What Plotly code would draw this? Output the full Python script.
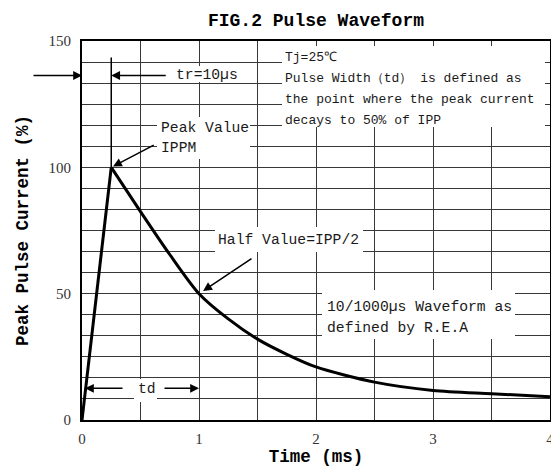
import plotly.graph_objects as go

# ---------------- data ----------------
rise_time_ms = [0, 0.25]
rise_pct = [0, 100]
decay_time_ms = [0.25, 0.5, 0.75, 1.0, 1.25, 1.5, 1.75, 2.0, 2.5, 3.0, 3.5, 4.0]
decay_pct = [100, 82.5, 65.5, 50, 40, 32, 26, 21, 15, 11.7, 10.4, 9.2]
x_tick_labels = [0, 1, 2, 3, 4]
y_tick_labels = [0, 50, 100, 150]
x_grid_step = 0.5
y_grid_divisions = 18
tr_marker_top = 143.5
half_value_point = (1.0, 50)

# ---------------- geometry (page pixels; page body has an 8px margin) ----------------
OFF = 8
PAGE_W, PAGE_H = 559, 475
W, H = PAGE_W - OFF, PAGE_H - OFF
P_LEFT, P_RIGHT, P_TOP, P_BOTTOM = 82, 550, 41, 420
ML, MR, MT, MB = P_LEFT - OFF, PAGE_W - P_RIGHT, P_TOP - OFF, PAGE_H - P_BOTTOM
XMAX, YMAX = 4, 150

def dx(px):
    return (px - P_LEFT) / (P_RIGHT - P_LEFT) * XMAX

def dy(py):
    return (P_BOTTOM - py) / (P_BOTTOM - P_TOP) * YMAX

MONO = "Liberation Mono"
SERIF = "Liberation Serif"
TXT = "#1a1a1a"

fig = go.Figure()
fig.add_trace(go.Scatter(x=rise_time_ms, y=rise_pct, mode="lines",
                         line=dict(color="black", width=3), showlegend=False, hoverinfo="skip"))
fig.add_trace(go.Scatter(x=decay_time_ms, y=decay_pct, mode="lines",
                         line=dict(color="black", width=3, shape="spline", smoothing=0.8),
                         showlegend=False, hoverinfo="skip"))
# tr marker vertical line
fig.add_trace(go.Scatter(x=[rise_time_ms[1], rise_time_ms[1]], y=[rise_pct[1], tr_marker_top],
                         mode="lines", line=dict(color="black", width=1.5),
                         showlegend=False, hoverinfo="skip"))

ann = []

def block(x0, x1, y0, y1):
    ann.append(dict(x=dx((x0 + x1) / 2), y=dy((y0 + y1) / 2), xref="x", yref="y",
                    text=" ", showarrow=False, width=x1 - x0, height=y1 - y0,
                    bgcolor="white", borderpad=0, borderwidth=0,
                    xanchor="center", yanchor="middle"))

def label(text, px_left, py_center, size=14.7):
    ann.append(dict(x=dx(px_left), y=dy(py_center), xref="x", yref="y",
                    text=text, showarrow=False, xanchor="left", yanchor="middle",
                    font=dict(family=MONO, size=size, color=TXT), borderpad=0))

def arrow(hx, hy, axp, ayp, standoff=0):
    ann.append(dict(x=hx, y=hy, xref="x", yref="y", ax=axp, ay=ayp,
                    axref="pixel", ayref="pixel", text="", showarrow=True,
                    arrowhead=2, arrowsize=1.1, arrowwidth=1.6, arrowcolor="black",
                    standoff=standoff))

# white text boxes that mask the grid
block(169, 243, 66, 82)      # tr=10us
block(282, 545, 46, 127)     # Tj block
block(157, 250, 117, 159)    # Peak value
block(215, 363, 227, 252)    # Half value
block(322, 515, 290, 339)    # 10/1000
block(134, 157, 379, 402)    # td

label("tr=10µs", 175, 75)
label("Tj=25℃", 284, 57, 13)
label("Pulse Width（td） is defined as", 284, 78, 13)
label("the point where the peak current", 284, 99, 13)
label("decays to 50% of IPP", 284, 120, 13)
label("Peak Value", 160, 128)
label("IPPM", 160, 148)
label("Half Value=IPP/2", 217, 239.5)
label("10/1000µs Waveform as", 326, 307)
label("defined by R.E.A", 326, 328)
label("td", 137, 389)

y_arrow = dy(75.5)
arrow(0, y_arrow, -50, 0)
arrow(rise_time_ms[1], y_arrow, 56, 0)
arrow(rise_time_ms[1], rise_pct[1], 44, -23, standoff=2)
arrow(half_value_point[0], half_value_point[1], 54, -36, standoff=5)
y_td = dy(388.3)
arrow(0, y_td, 42, 0, standoff=3)
arrow(1.0, y_td, -36, 0)

x_grid = [i * x_grid_step for i in range(int(XMAX / x_grid_step) + 1)]
y_grid = [i * YMAX / y_grid_divisions for i in range(y_grid_divisions + 1)]

axis_common = dict(showline=True, mirror=True, linecolor="black", linewidth=2,
                   showgrid=True, gridcolor="#383838", gridwidth=1.3,
                   zeroline=False, ticks="", fixedrange=True,
                   tickfont=dict(family=SERIF, size=15, color="#333"))

fig.update_xaxes(range=[0, XMAX], tickmode="array", tickvals=x_grid,
                 ticktext=[(str(int(v)) if v in x_tick_labels else "") for v in x_grid],
                 ticklabelstandoff=4,
                 title=dict(text="Time (ms)", standoff=3,
                            font=dict(family=MONO, size=17.5, color="black", weight="bold")),
                 **axis_common)
fig.update_yaxes(range=[0, YMAX], tickmode="array", tickvals=y_grid,
                 ticktext=[(str(int(round(v))) if any(abs(v - t) < 1e-6 for t in y_tick_labels) else "") for v in y_grid],
                 ticklabelstandoff=6,
                 title=dict(text="Peak Pulse Current (%)", standoff=15,
                            font=dict(family=MONO, size=17.5, color="black", weight="bold")),
                 **axis_common)

fig.update_layout(
    width=W, height=H,
    margin=dict(l=ML, r=MR, t=MT, b=MB, autoexpand=False),
    paper_bgcolor="white", plot_bgcolor="white",
    title=dict(text="FIG.2 Pulse Waveform", x=0.5, xref="paper", y=1 - (20 - OFF) / H, yref="container",
               xanchor="center", yanchor="middle",
               font=dict(family=MONO, size=18, color="black", weight="bold")),
    annotations=ann,
    showlegend=False,
)

fig.write_html("out.html")
